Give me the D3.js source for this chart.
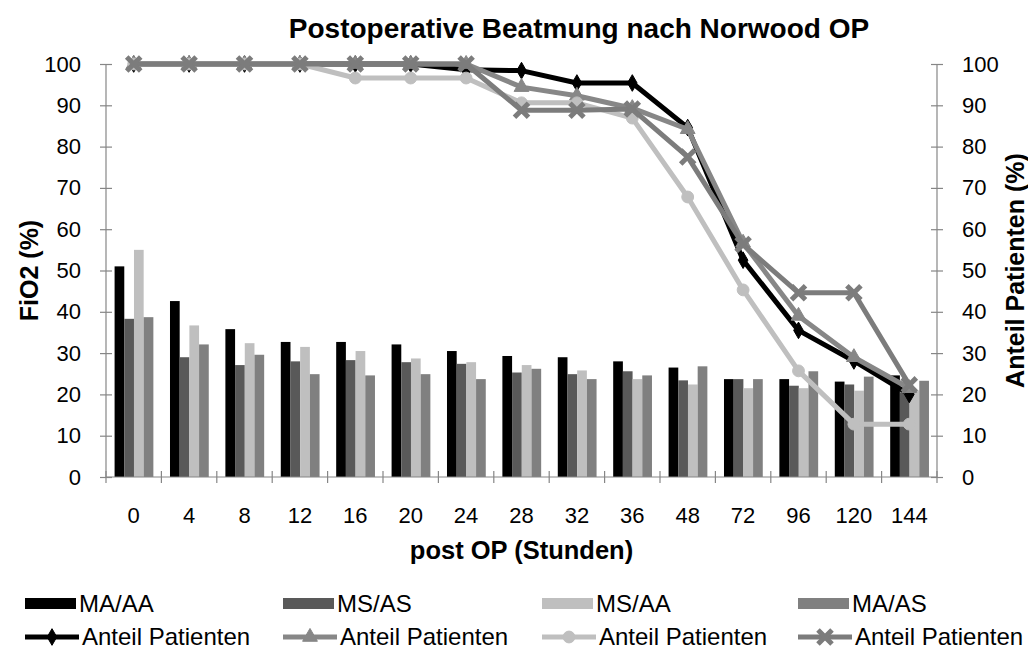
<!DOCTYPE html>
<html>
<head>
<meta charset="utf-8">
<script src="https://cdn.jsdelivr.net/npm/d3@7"></script>
<style>
  body { margin: 0; background: #fff; }
  text { font-family: "Liberation Sans", Arial, sans-serif; }
</style>
</head>
<body>
<div id="chart"></div>
<script>
// categories (hours post OP)
var hours = ["0", "4", "8", "12", "16", "20", "24", "28", "32", "36", "48", "72", "96", "120", "144"];

// FiO2 (%) bars
var fio2_MA_AA = [51.0, 42.6, 35.8, 32.7, 32.7, 32.1, 30.5, 29.3, 29.0, 28.0, 26.5, 23.7, 23.7, 23.1, 24.6];
var fio2_MS_AS = [38.3, 29.0, 27.1, 28.0, 28.3, 27.8, 27.4, 25.3, 24.9, 25.6, 23.4, 23.7, 22.1, 22.4, 20.5];
var fio2_MS_AA = [55.0, 36.7, 32.4, 31.5, 30.5, 28.7, 27.8, 27.1, 25.8, 23.7, 22.4, 21.5, 21.5, 20.9, 21.0];
var fio2_MA_AS = [38.7, 32.1, 29.6, 24.9, 24.6, 24.9, 23.7, 26.2, 23.7, 24.6, 26.8, 23.7, 25.6, 24.3, 23.3];

// Anteil Patienten (%) lines
var anteil_MA_AA = [100, 100, 100, 100, 100, 100, 98.6, 98.4, 95.4, 95.4, 84.6, 52.5, 35.5, 28.1, 20.0];
var anteil_MS_AS = [100, 100, 100, 100, 100, 100, 100, 94.4, 92.3, 89.3, 84.2, 56.7, 39.0, 29.0, 21.5];
var anteil_MS_AA = [100, 100, 100, 100, 96.6, 96.6, 96.6, 90.6, 90.6, 86.9, 67.8, 45.3, 25.7, 12.8, 12.8];
var anteil_MA_AS = [100, 100, 100, 100, 100, 100, 100, 88.8, 88.8, 89.1, 77.5, 56.3, 44.6, 44.6, 22.3];

var yTicks = [0, 10, 20, 30, 40, 50, 60, 70, 80, 90, 100];

var barSeries = [
  {name: "MA/AA", values: fio2_MA_AA, color: "#000000"},
  {name: "MS/AS", values: fio2_MS_AS, color: "#595959"},
  {name: "MS/AA", values: fio2_MS_AA, color: "#bfbfbf"},
  {name: "MA/AS", values: fio2_MA_AS, color: "#808080"}
];
var lineSeries = [
  {name: "Anteil Patienten", values: anteil_MA_AA, color: "#000000", marker: "diamond"},
  {name: "Anteil Patienten", values: anteil_MS_AS, color: "#878787", marker: "triangle"},
  {name: "Anteil Patienten", values: anteil_MS_AA, color: "#bfbfbf", marker: "circle"},
  {name: "Anteil Patienten", values: anteil_MA_AS, color: "#7c7c7c", marker: "x"}
];

var W = 1028, H = 655;
var margin = {top: 64, right: 91, bottom: 178, left: 106},
    width = W - margin.left - margin.right,
    height = H - margin.top - margin.bottom;
var axisColor = "#868686";

var svg = d3.select("#chart")
  .append("svg")
    .attr("width", W)
    .attr("height", H);

var g = svg.append("g")
    .attr("transform", "translate(" + margin.left + "," + margin.top + ")");

var x = d3.scaleBand()
  .domain(hours)
  .range([0, width]);
var step = x.step();

var xBar = d3.scaleBand()
  .domain(barSeries.map(function(d) { return d.name; }))
  .range([step * 0.155, step * 0.855]);

var y = d3.scaleLinear().domain([0, 100]).range([height, 0]);
var y2 = d3.scaleLinear().domain([0, 100]).range([height, 0]);

// bars
barSeries.forEach(function(s) {
  g.append("g")
    .selectAll("rect")
    .data(s.values)
    .enter()
    .append("rect")
      .attr("x", function(d, i) { return x(hours[i]) + xBar(s.name); })
      .attr("width", xBar.bandwidth())
      .attr("y", function(d) { return y(d); })
      .attr("height", function(d) { return height - y(d); })
      .attr("fill", s.color);
});

// left axis
var yAxisL = g.append("g")
  .call(d3.axisLeft(y).tickValues(yTicks).tickSize(6).tickPadding(19));
// right axis
var yAxisR = g.append("g")
  .attr("transform", "translate(" + width + ",0)")
  .call(d3.axisRight(y2).tickValues(yTicks).tickSize(6).tickPadding(19));
// bottom axis (ticks between categories)
var xAxis = g.append("g")
  .attr("transform", "translate(0," + height + ")")
  .call(d3.axisBottom(x).tickSize(0).tickPadding(30));

[yAxisL, yAxisR, xAxis].forEach(function(a) {
  a.select(".domain").attr("stroke", axisColor).attr("stroke-width", 1.2);
  a.selectAll(".tick line").attr("stroke", axisColor).attr("stroke-width", 1.2);
  a.selectAll(".tick text")
    .attr("fill", "#000")
    .style("font-size", "22px");
});
yAxisL.selectAll(".tick line").attr("x1", 6);
yAxisR.selectAll(".tick line").attr("x1", -6);
yAxisL.select(".domain").attr("d", "M0,0V" + height);
yAxisR.select(".domain").attr("d", "M0,0V" + height);
xAxis.select(".domain").attr("d", "M0,0H" + width);

var bounds = d3.range(hours.length + 1).map(function(i) { return i * step; });
xAxis.selectAll(".bound")
  .data(bounds)
  .enter()
  .append("line")
    .attr("class", "bound")
    .attr("x1", function(d) { return d; })
    .attr("x2", function(d) { return d; })
    .attr("y1", -6)
    .attr("y2", 6)
    .attr("stroke", axisColor)
    .attr("stroke-width", 1.2);

// lines
function markerPath(type) {
  if (type === "diamond") return d3.symbol().type(d3.symbolDiamond).size(80)();
  if (type === "triangle") return d3.symbol().type(d3.symbolTriangle).size(95)();
  if (type === "circle") return d3.symbol().type(d3.symbolCircle).size(110)();
  return d3.symbol().type(d3.symbolX).size(130)();
}

var line = d3.line()
  .x(function(d, i) { return x(hours[i]) + step / 2; })
  .y(function(d) { return y2(d); });

lineSeries.forEach(function(s) {
  g.append("path")
    .datum(s.values)
    .attr("d", line)
    .attr("fill", "none")
    .attr("stroke", s.color)
    .attr("stroke-width", 5)
    .attr("stroke-linejoin", "round");
  g.append("g")
    .selectAll("path")
    .data(s.values)
    .enter()
    .append("path")
      .attr("transform", function(d, i) {
        return "translate(" + (x(hours[i]) + step / 2) + "," + y2(d) + ")";
      })
      .attr("d", markerPath(s.marker))
      .attr("fill", s.marker === "x" ? "none" : s.color)
      .attr("stroke", s.color)
      .attr("stroke-width", s.marker === "x" ? 5 : 1);
});

// title
svg.append("text")
  .attr("x", 579)
  .attr("y", 38)
  .attr("text-anchor", "middle")
  .style("font-size", "28px")
  .style("font-weight", "bold")
  .text("Postoperative Beatmung nach Norwood OP");

// axis titles
svg.append("text")
  .attr("text-anchor", "middle")
  .attr("transform", "translate(38," + (margin.top + height / 2) + ") rotate(-90)")
  .style("font-size", "25px")
  .style("font-weight", "bold")
  .text("FiO2 (%)");

svg.append("text")
  .attr("text-anchor", "middle")
  .attr("transform", "translate(1024," + (margin.top + height / 2) + ") rotate(-90)")
  .style("font-size", "25px")
  .style("font-weight", "bold")
  .text("Anteil Patienten (%)");

svg.append("text")
  .attr("x", margin.left + width / 2)
  .attr("y", 559)
  .attr("text-anchor", "middle")
  .style("font-size", "25.5px")
  .style("font-weight", "bold")
  .text("post OP (Stunden)");

// legend
var legX = [25, 283, 542, 798];
var leg1 = svg.append("g");
barSeries.forEach(function(s, i) {
  leg1.append("rect")
    .attr("x", legX[i])
    .attr("y", 598)
    .attr("width", 51)
    .attr("height", 11)
    .attr("fill", s.color);
  leg1.append("text")
    .attr("x", legX[i] + 54)
    .attr("y", 612)
    .style("font-size", "24px")
    .text(s.name);
});
var leg2 = svg.append("g");
lineSeries.forEach(function(s, i) {
  leg2.append("line")
    .attr("x1", legX[i])
    .attr("x2", legX[i] + 54)
    .attr("y1", 637)
    .attr("y2", 637)
    .attr("stroke", s.color)
    .attr("stroke-width", 5);
  leg2.append("path")
    .attr("transform", "translate(" + (legX[i] + 27) + ",637)")
    .attr("d", markerPath(s.marker))
    .attr("fill", s.marker === "x" ? "none" : s.color)
    .attr("stroke", s.color)
    .attr("stroke-width", s.marker === "x" ? 5 : 1);
  leg2.append("text")
    .attr("x", legX[i] + 57)
    .attr("y", 645)
    .style("font-size", "24px")
    .text(s.name);
});
</script>
</body>
</html>
